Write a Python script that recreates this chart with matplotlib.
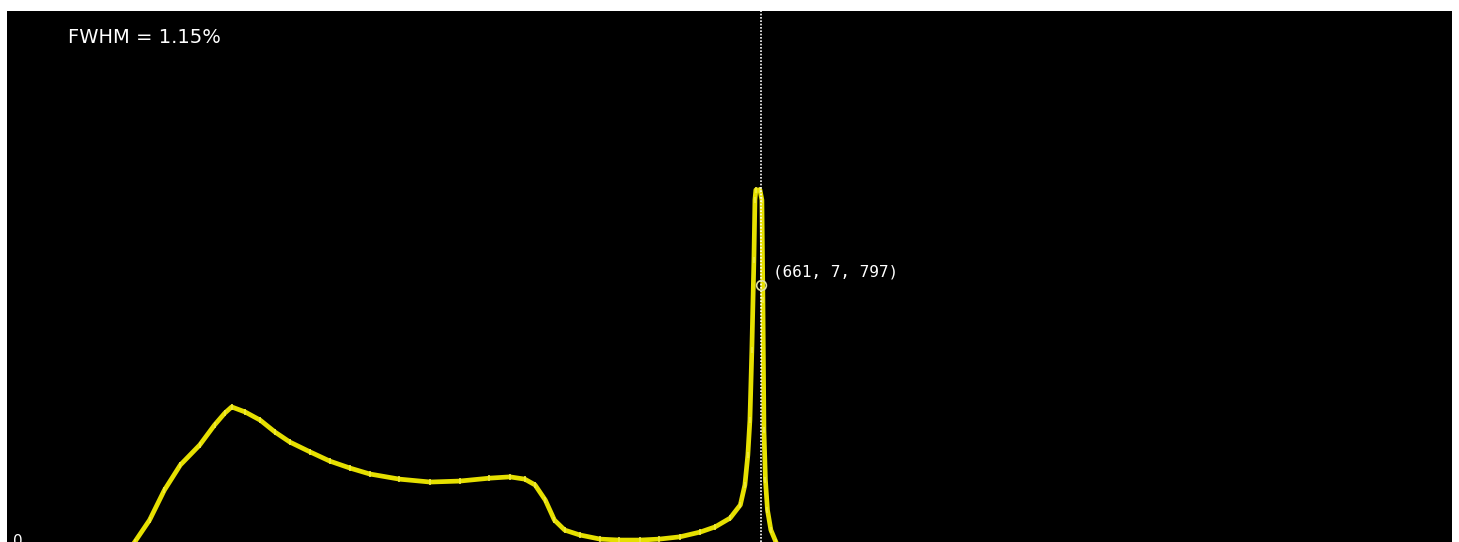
import numpy as np
import matplotlib.pyplot as plt

# spectrum (energy in keV, counts)
energy = [112, 125, 138, 152, 169, 182, 191, 197, 209, 222, 235, 248, 266, 283,
          301, 318, 344, 371, 397, 423, 441, 454, 463, 472, 480, 489, 502, 520,
          537, 555, 572, 590, 608, 621, 634, 643, 647, 649.6, 651.4, 653.1, 654.9,
          655.8, 656.6, 660.2, 661.9, 662.8, 663.7, 665.0, 666.8, 669.8, 674.2]
counts = [0, 68, 161, 239, 301, 363, 400, 419, 403, 378, 341, 310, 279, 251,
          229, 211, 195, 186, 189, 198, 202, 195, 177, 130, 68, 37, 22, 9,
          6, 6, 9, 16, 31, 47, 74, 115, 177, 270, 378, 595, 874,
          1061, 1092, 1092, 1061, 750, 347, 192, 99, 37, 0]

cursor_e = 661
cursor_c = 797
fwhm = 1.15

fig = plt.figure(figsize=(14.59, 5.42), dpi=100, facecolor='white')
ax = fig.add_axes([7 / 1459, 0, 1445 / 1459, 531 / 542])
ax.set_facecolor('black')
ax.plot(energy, counts, color='#e6e000', lw=3.4, solid_joinstyle='round',
        marker='|', ms=4, mew=1.2, mec='#f0ea40')
ax.axvline(cursor_e, color='white', lw=1.2, ls=(0, (1, 1)))
ax.plot([cursor_e], [cursor_c], 'o', ms=7, mfc='none', mec='#e0e0a0', mew=1.2)
ax.annotate('(%d, 7, %d)' % (cursor_e, cursor_c), (cursor_e, cursor_c),
            xytext=(9, 4), textcoords='offset points', color='white',
            fontsize=11.5, family='DejaVu Sans Mono', va='bottom')
ax.text(0.042, 0.95, 'FWHM = %.2f%%' % fwhm, transform=ax.transAxes,
        color='white', fontsize=14, va='center')
fig.text(0.009, 0.014, '0', color='white', fontsize=11, va='top')

ax.set_xlim(0, 1267)
ax.set_ylim(0, 1647)
ax.set_xticks([])
ax.set_yticks([])
for s in ax.spines.values():
    s.set_visible(False)

fig.savefig('out.png', dpi=100, facecolor='white')
